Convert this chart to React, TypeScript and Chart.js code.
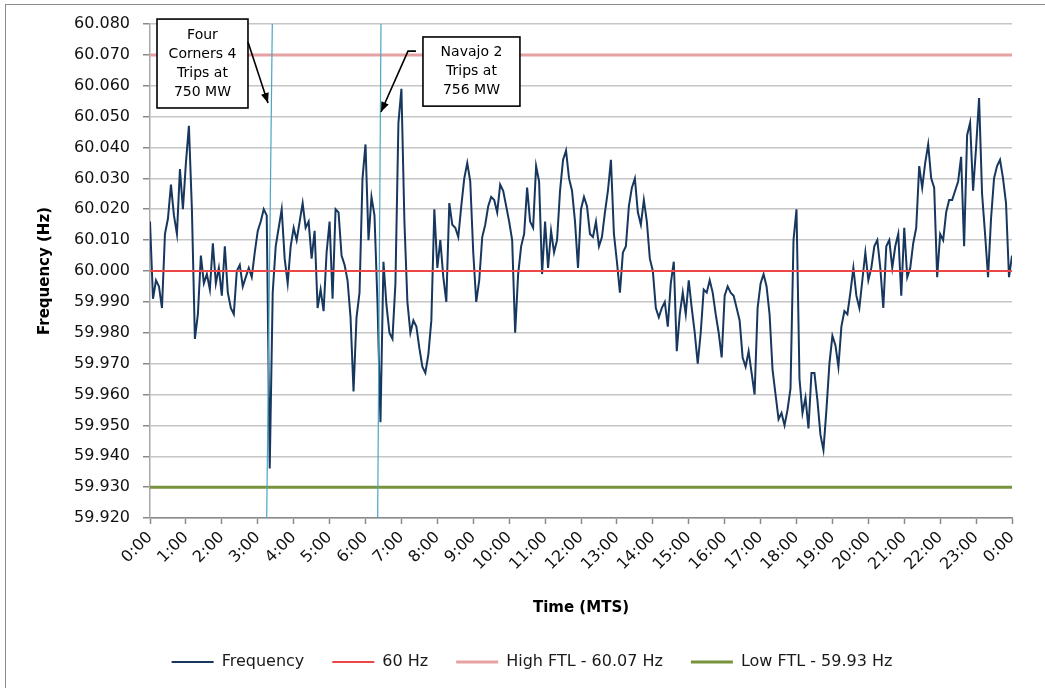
import React, { useEffect, useRef } from "react";
import { Chart, registerables } from "chart.js";

Chart.register(...registerables);

// ---------- data ----------
const TIME_LABELS = [
  "0:00", "1:00", "2:00", "3:00", "4:00", "5:00", "6:00", "7:00", "8:00", "9:00",
  "10:00", "11:00", "12:00", "13:00", "14:00", "15:00", "16:00", "17:00", "18:00",
  "19:00", "20:00", "21:00", "22:00", "23:00", "0:00",
];

const Y_TICKS = [
  59.92, 59.93, 59.94, 59.95, 59.96, 59.97, 59.98, 59.99, 60.0,
  60.01, 60.02, 60.03, 60.04, 60.05, 60.06, 60.07, 60.08,
];

const SAMPLE_MINUTES = 5;

// frequency readings, one every 5 minutes from 0:00 to 24:00 (Hz)
const FREQUENCY = [
  60.016, 59.991, 59.997, 59.995, 59.988, 60.012, 60.017, 60.028, 60.018, 60.012, 60.033, 60.020,
  60.035, 60.047, 60.020, 59.978, 59.986, 60.005, 59.996, 59.999, 59.994, 60.009, 59.996, 60.001,
  59.992, 60.008, 59.993, 59.988, 59.986, 60.000, 60.002, 59.995, 59.998, 60.001, 59.998, 60.006,
  60.013, 60.016, 60.020, 60.018, 59.936, 59.993, 60.008, 60.014, 60.020, 60.004, 59.996, 60.008,
  60.014, 60.010, 60.016, 60.022, 60.014, 60.016, 60.004, 60.013, 59.988, 59.994, 59.987, 60.006,
  60.016, 59.991, 60.020, 60.019, 60.005, 60.002, 59.997, 59.985, 59.961, 59.985, 59.993, 60.030,
  60.041, 60.010, 60.024, 60.018, 59.990, 59.951, 60.003, 59.989, 59.980, 59.978, 59.996, 60.048,
  60.059, 60.016, 59.990, 59.980, 59.984, 59.982, 59.975, 59.969, 59.967, 59.973, 59.984, 60.020,
  60.001, 60.010, 59.998, 59.990, 60.022, 60.015, 60.014, 60.011, 60.021, 60.030, 60.035, 60.029,
  60.006, 59.990, 59.997, 60.011, 60.015, 60.021, 60.024, 60.023, 60.019, 60.028, 60.026, 60.021,
  60.016, 60.010, 59.980, 59.999, 60.008, 60.012, 60.027, 60.016, 60.014, 60.034, 60.029, 59.999,
  60.016, 60.001, 60.013, 60.006, 60.010, 60.026, 60.036, 60.039, 60.030, 60.026, 60.016, 60.001,
  60.020, 60.024, 60.021, 60.012, 60.011, 60.016, 60.008, 60.011, 60.019, 60.026, 60.036, 60.012,
  60.003, 59.993, 60.006, 60.008, 60.021, 60.027, 60.030, 60.019, 60.015, 60.023, 60.016, 60.004,
  60.000, 59.988, 59.985, 59.988, 59.990, 59.982, 59.996, 60.003, 59.974, 59.986, 59.993, 59.986,
  59.997, 59.988, 59.980, 59.970, 59.980, 59.994, 59.993, 59.997, 59.993, 59.986, 59.980, 59.972,
  59.992, 59.995, 59.993, 59.992, 59.988, 59.984, 59.972, 59.969, 59.974, 59.967, 59.960, 59.988,
  59.996, 59.999, 59.995, 59.986, 59.968, 59.960, 59.952, 59.954, 59.950, 59.955, 59.962, 60.010,
  60.020, 59.965, 59.954, 59.959, 59.949, 59.967, 59.967, 59.958, 59.947, 59.942, 59.955, 59.970,
  59.979, 59.976, 59.969, 59.982, 59.987, 59.986, 59.993, 60.001, 59.992, 59.988, 59.997, 60.006,
  59.997, 60.001, 60.008, 60.010, 60.001, 59.988, 60.008, 60.010, 60.001, 60.008, 60.012, 59.992,
  60.014, 59.998, 60.001, 60.009, 60.014, 60.034, 60.027, 60.035, 60.041, 60.030, 60.027, 59.998,
  60.012, 60.010, 60.019, 60.023, 60.023, 60.026, 60.029, 60.037, 60.008, 60.044, 60.048, 60.026,
  60.040, 60.056, 60.025, 60.012, 59.998, 60.017, 60.030, 60.034, 60.036, 60.030, 60.022, 59.998,
  60.005,
];

const NOMINAL_HZ = 60.0;
const HIGH_FTL_HZ = 60.07;
const LOW_FTL_HZ = 59.93;

const SERIES_NAMES = ["Frequency", "60 Hz", "High FTL - 60.07 Hz", "Low FTL - 59.93 Hz"];

// unit trip markers: hour at bottom / top of the plot
const EVENT_LINE_1_HOURS = [3.249, 3.405];
const EVENT_LINE_2_HOURS = [6.339, 6.431];
const EVENT_LINE_HZ = [59.92, 60.08];

const ANNOTATION_1_TEXT = ["Four", "Corners 4", "Trips at", "750 MW"];
const ANNOTATION_2_TEXT = ["Navajo 2", "Trips at", "756 MW"];

// ---------- chart ----------
const FONT = "DejaVu Sans";

const ANNOTATIONS = [
  {
    lines: ANNOTATION_1_TEXT,
    box: [0.195, 60.0816, 2.728, 60.0528],
    arrow: [[2.728, 60.0742], [3.285, 60.0544]],
  },
  {
    lines: ANNOTATION_2_TEXT,
    box: [7.6, 60.0758, 10.3, 60.0534],
    arrow: [[7.405, 60.0712], [7.183, 60.0712], [6.431, 60.0515]],
  },
];

const annotationPlugin = {
  id: "eventAnnotations",
  afterDatasetsDraw(chart: any) {
    const { ctx } = chart;
    const xs = chart.scales.x;
    const ys = chart.scales.y;
    ctx.save();
    for (const a of ANNOTATIONS) {
      const left = xs.getPixelForValue(a.box[0]);
      const right = xs.getPixelForValue(a.box[2]);
      const top = ys.getPixelForValue(a.box[1]);
      const bottom = ys.getPixelForValue(a.box[3]);
      ctx.fillStyle = "#ffffff";
      ctx.fillRect(left, top, right - left, bottom - top);
      ctx.strokeStyle = "#000000";
      ctx.lineWidth = 1.6;
      ctx.strokeRect(left, top, right - left, bottom - top);

      ctx.fillStyle = "#000000";
      ctx.font = `14px "${FONT}"`;
      ctx.textAlign = "center";
      ctx.textBaseline = "middle";
      const lh = 19;
      const cx = (left + right) / 2;
      const startY = (top + bottom) / 2 - ((a.lines.length - 1) * lh) / 2;
      a.lines.forEach((t: string, i: number) => ctx.fillText(t, cx, startY + i * lh));

      const pts = a.arrow.map((p: number[]) => [xs.getPixelForValue(p[0]), ys.getPixelForValue(p[1])]);
      ctx.beginPath();
      ctx.moveTo(pts[0][0], pts[0][1]);
      for (let i = 1; i < pts.length; i++) ctx.lineTo(pts[i][0], pts[i][1]);
      ctx.lineWidth = 1.6;
      ctx.stroke();
      const [tx, ty] = pts[pts.length - 1];
      const [px, py] = pts[pts.length - 2];
      const ang = Math.atan2(ty - py, tx - px);
      const L = 10;
      const W = 4;
      ctx.beginPath();
      ctx.moveTo(tx, ty);
      ctx.lineTo(tx - L * Math.cos(ang) + W * Math.sin(ang), ty - L * Math.sin(ang) - W * Math.cos(ang));
      ctx.lineTo(tx - L * Math.cos(ang) - W * Math.sin(ang), ty - L * Math.sin(ang) + W * Math.cos(ang));
      ctx.closePath();
      ctx.fill();
    }
    ctx.restore();
  },
};

export default function App() {
  const canvasRef = useRef<HTMLCanvasElement | null>(null);

  useEffect(() => {
    if (!canvasRef.current) return;
    const freqPoints = FREQUENCY.map((v, i) => ({ x: (i * SAMPLE_MINUTES) / 60, y: v }));
    const flat = (v: number) => [
      { x: 0, y: v },
      { x: TIME_LABELS.length - 1, y: v },
    ];
    const eventLine = (hours: number[]) => [
      { x: hours[0], y: EVENT_LINE_HZ[0] },
      { x: hours[1], y: EVENT_LINE_HZ[1] },
    ];

    const chart = new Chart(canvasRef.current, {
      type: "line",
      data: {
        datasets: [
          {
            label: SERIES_NAMES[0],
            data: freqPoints,
            borderColor: "#17375E",
            backgroundColor: "#17375E",
            borderWidth: 2,
            pointRadius: 0,
            tension: 0,
            order: 5,
          },
          {
            label: SERIES_NAMES[1],
            data: flat(NOMINAL_HZ),
            borderColor: "#EC4646",
            backgroundColor: "#EC4646",
            borderWidth: 2,
            pointRadius: 0,
            order: 4,
          },
          {
            label: SERIES_NAMES[2],
            data: flat(HIGH_FTL_HZ),
            borderColor: "#E6A2A2",
            backgroundColor: "#E6A2A2",
            borderWidth: 3,
            pointRadius: 0,
            order: 3,
          },
          {
            label: SERIES_NAMES[3],
            data: flat(LOW_FTL_HZ),
            borderColor: "#77933C",
            backgroundColor: "#77933C",
            borderWidth: 3,
            pointRadius: 0,
            order: 2,
          },
          {
            label: "event1",
            data: eventLine(EVENT_LINE_1_HOURS),
            borderColor: "#4AA6C4",
            borderWidth: 1.2,
            pointRadius: 0,
            order: 1,
          },
          {
            label: "event2",
            data: eventLine(EVENT_LINE_2_HOURS),
            borderColor: "#4AA6C4",
            borderWidth: 1.2,
            pointRadius: 0,
            order: 0,
          },
        ],
      },
      options: {
        responsive: false,
        animation: false,
        devicePixelRatio: 1,
        events: [],
        layout: { padding: { left: 52, right: 33, top: 24, bottom: 8 } },
        plugins: {
          tooltip: { enabled: false },
          legend: {
            position: "bottom",
            labels: {
              font: { family: FONT, size: 16 },
              color: "#1a1a1a",
              usePointStyle: true,
              pointStyle: "line",
              pointStyleWidth: 42,
              padding: 28,
              filter: (item: any) => item.datasetIndex < 4,
              sort: (a: any, b: any) => a.datasetIndex - b.datasetIndex,
            },
          },
        },
        scales: {
          x: {
            type: "linear",
            min: 0,
            max: TIME_LABELS.length - 1,
            afterBuildTicks: (scale: any) => {
              scale.ticks = TIME_LABELS.map((_, i) => ({ value: i }));
            },
            afterFit: (scale: any) => {
              const legendH = scale.chart.legend ? scale.chart.legend.height : 0;
              scale.height = 688 - 518 - legendH - 8;
            },
            ticks: {
              autoSkip: false,
              maxRotation: 45,
              minRotation: 45,
              padding: 4,
              color: "#111111",
              font: { family: FONT, size: 16 },
              callback: (v: any) => TIME_LABELS[Math.round(Number(v))],
            },
            grid: {
              drawOnChartArea: false,
              drawTicks: true,
              tickLength: 6,
              tickColor: "#8a8a8a",
              tickWidth: 1.5,
            },
            border: { display: true, color: "#8a8a8a", width: 1.5 },
            title: {
              display: true,
              text: "Time (MTS)",
              color: "#000000",
              font: { family: FONT, size: 15, weight: "bold" },
              padding: { top: 0, bottom: 9 },
            },
          },
          y: {
            type: "linear",
            min: Y_TICKS[0],
            max: Y_TICKS[Y_TICKS.length - 1],
            afterBuildTicks: (scale: any) => {
              scale.ticks = Y_TICKS.map((v) => ({ value: v }));
            },
            afterFit: (scale: any) => {
              scale.width = 98;
            },
            ticks: {
              padding: 13,
              color: "#111111",
              font: { family: FONT, size: 16 },
              callback: (v: any) => Number(v).toFixed(3),
            },
            grid: {
              color: "#C6C6C6",
              lineWidth: 1.5,
              tickLength: 7,
              tickColor: "#8a8a8a",
              tickWidth: 1.5,
            },
            border: { display: true, color: "#a8a8a8", width: 1.5 },
            title: {
              display: true,
              text: "Frequency (Hz)",
              color: "#000000",
              font: { family: FONT, size: 15, weight: "bold" },
              padding: { top: -16, bottom: 0 },
            },
          },
        },
      },
      plugins: [annotationPlugin],
    } as any);

    return () => chart.destroy();
  }, []);

  return (
    <div
      style={{
        position: "fixed",
        left: 0,
        top: 0,
        width: 1045,
        height: 688,
        overflow: "hidden",
        background: "#ffffff",
      }}
    >
      <div
        style={{
          position: "absolute",
          left: 5,
          top: 4,
          width: 1100,
          height: 760,
          border: "1px solid #8a8a8a",
          boxSizing: "border-box",
        }}
      />
      <canvas
        ref={canvasRef}
        width={1045}
        height={688}
        style={{ position: "absolute", left: 0, top: 0, width: 1045, height: 688 }}
      />
    </div>
  );
}
